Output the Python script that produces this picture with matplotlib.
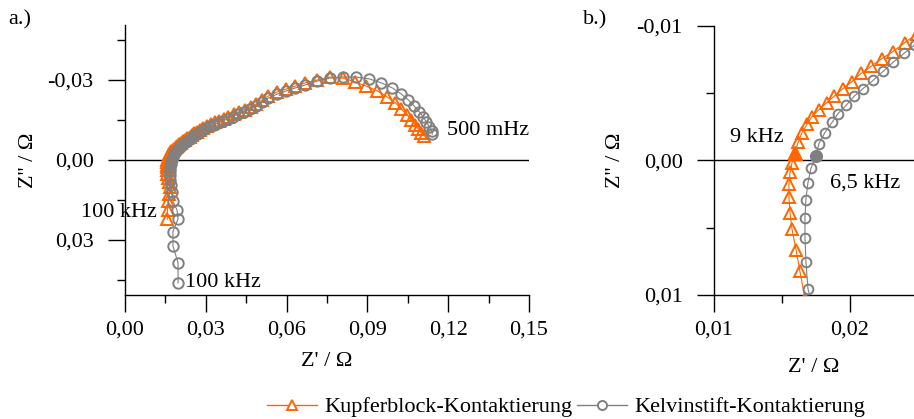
import matplotlib
matplotlib.use("Agg")
import matplotlib.pyplot as plt
from matplotlib.lines import Line2D
from matplotlib.ticker import FixedLocator, FuncFormatter

# Kupferblock-Kontaktierung, from 100 kHz down to 500 mHz
kupfer_re = [0.0157, 0.0158, 0.0161, 0.0165, 0.0167,
             0.01632, 0.01603, 0.01574, 0.01559, 0.01551, 0.01551, 0.01559, 0.01574,
             0.01596, 0.01618, 0.01647, 0.01684, 0.01721, 0.01772, 0.01831, 0.01882,
             0.01949, 0.02015, 0.02081, 0.02154, 0.02235, 0.02316, 0.02404, 0.0249,
             0.0258, 0.0268, 0.0279, 0.0291, 0.0304, 0.0318, 0.0333, 0.0349, 0.0366,
             0.0384, 0.0403, 0.0423, 0.0444, 0.0466, 0.0488,
             0.0509, 0.0532, 0.0565, 0.0599, 0.0632, 0.0669, 0.0714, 0.0762, 0.0810,
             0.0855, 0.0896, 0.0937, 0.0974, 0.1004, 0.1026, 0.1048, 0.1063, 0.1078,
             0.1089, 0.1100, 0.1112]
kupfer_im = [0.0222, 0.0186, 0.0153, 0.0126, 0.0103,
             0.00825, 0.00662, 0.00513, 0.00387, 0.00275, 0.00178, 0.00089, 0.00015,
             -0.00059, -0.00134, -0.00208, -0.00268, -0.00327, -0.00379, -0.00431, -0.00476,
             -0.00535, -0.00587, -0.00647, -0.00699, -0.00758, -0.00810, -0.00877, -0.0094,
             -0.0100, -0.0106, -0.0113, -0.0120, -0.0127, -0.0134, -0.0141, -0.0148, -0.0155,
             -0.0163, -0.0171, -0.0180, -0.0189, -0.0199, -0.0211,
             -0.0225, -0.0240, -0.0255, -0.0266, -0.0277, -0.0289, -0.0300, -0.0311, -0.0307,
             -0.0292, -0.0277, -0.0259, -0.0236, -0.0214, -0.0191, -0.0169, -0.0150, -0.0131,
             -0.0116, -0.0101, -0.0090]
kupfer_mark = 13  # 9 kHz

# Kelvinstift-Kontaktierung, from 100 kHz down to 500 mHz
kelvin_re = [0.0197, 0.0197, 0.0178, 0.0178, 0.0197, 0.0193, 0.0178, 0.0175,
             0.01691, 0.01676, 0.01669, 0.01669, 0.01676, 0.01691, 0.01713,
             0.01750, 0.01772, 0.01816, 0.01868, 0.01912, 0.01971, 0.02029, 0.02096,
             0.02169, 0.02243, 0.02316, 0.02397, 0.02475,
             0.0256, 0.0266, 0.0277, 0.0289, 0.0302, 0.0316, 0.0331, 0.0347, 0.0364,
             0.0382, 0.0401, 0.0421, 0.0442, 0.0464, 0.0487,
             0.0509, 0.0532, 0.0565, 0.0599, 0.0632, 0.0669, 0.0714, 0.0762, 0.0810,
             0.0859, 0.0907, 0.0952, 0.0993, 0.1026, 0.1052, 0.1074, 0.1093, 0.1108,
             0.1119, 0.1130, 0.1138, 0.1141]
kelvin_im = [0.0461, 0.0386, 0.0322, 0.0268, 0.0221, 0.0187, 0.0155, 0.0120,
             0.00952, 0.00751, 0.00573, 0.00424, 0.00290, 0.00164, 0.00059,
             -0.00037, -0.00126, -0.00208, -0.00283, -0.00349, -0.00409, -0.00476, -0.00535,
             -0.00595, -0.00662, -0.00729, -0.00796, -0.00860,
             -0.0092, -0.0098, -0.0105, -0.0112, -0.0119, -0.0126, -0.0133, -0.0140, -0.0147,
             -0.0155, -0.0163, -0.0172, -0.0181, -0.0192, -0.0204,
             -0.0217, -0.0232, -0.0247, -0.0259, -0.0270, -0.0281, -0.0296, -0.0307, -0.0311,
             -0.0311, -0.0304, -0.0289, -0.0270, -0.0247, -0.0225, -0.0202, -0.0180, -0.0161,
             -0.0142, -0.0124, -0.0109, -0.0097]
kelvin_mark = 15  # 6,5 kHz

ORANGE = '#FF6600'
GREY = '#808080'
FS = 16

plt.rcParams['font.family'] = ['Liberation Serif', 'DejaVu Serif']
plt.rcParams['font.size'] = FS


# German decimal comma tick labels
def comma_fmt(v, pos):
    if abs(v) < 1e-9:
        v = 0.0
    return f"{v:.2f}".replace('.', ',')


# Common axis styling for both panels
def style_axis(ax):
    for side in ['top', 'right']:
        ax.spines[side].set_visible(False)
    for side in ['left', 'bottom']:
        ax.spines[side].set_linewidth(1.0)
    ax.tick_params(which='major', direction='out', length=12.5, width=1.0, labelsize=FS)
    ax.tick_params(which='minor', direction='out', length=6, width=1.0)
    ax.tick_params(axis='y', which='major', pad=10)
    ax.tick_params(axis='x', which='major', pad=6)
    ax.xaxis.set_major_formatter(FuncFormatter(comma_fmt))
    ax.yaxis.set_major_formatter(FuncFormatter(comma_fmt))
    ax.axhline(0, color='black', lw=1.0, zorder=1)


def plot_series(ax, ms_tri, ms_circ):
    ax.plot(kupfer_re, kupfer_im, color=ORANGE, lw=0.8, marker='^', ms=ms_tri,
            mfc='none', mec=ORANGE, mew=1.4, zorder=3)
    ax.plot(kelvin_re, kelvin_im, color=GREY, lw=0.8, marker='o', ms=ms_circ,
            mfc='none', mec=GREY, mew=1.4, zorder=4)


fig = plt.figure(figsize=(9.14, 4.19), dpi=100)

# Panel a: full spectrum
ax1 = fig.add_axes([125 / 914, 124 / 419, 404 / 914, 270 / 419])
plot_series(ax1, 8, 7.5)
ax1.set_xlim(0, 0.15)
ax1.set_ylim(0.0506, -0.0506)
ax1.xaxis.set_major_locator(FixedLocator([0, 0.03, 0.06, 0.09, 0.12, 0.15]))
ax1.xaxis.set_minor_locator(FixedLocator([0.015, 0.045, 0.075, 0.105, 0.135]))
ax1.yaxis.set_major_locator(FixedLocator([-0.03, 0, 0.03]))
ax1.yaxis.set_minor_locator(FixedLocator([-0.045, -0.015, 0.015, 0.045]))
style_axis(ax1)
ax1.set_xlabel("Z' / Ω", fontsize=FS)
ax1.set_ylabel("Z'' / Ω", fontsize=FS)
ax1.xaxis.set_label_coords(0.5, -0.21)
ax1.yaxis.set_label_coords(-0.215, 0.5)
ax1.text(0.0119, 0.0195, '100 kHz', ha='right', va='center', fontsize=FS)
ax1.text(0.0223, 0.0461, '100 kHz', ha='left', va='center', fontsize=FS)
ax1.text(0.1197, -0.0112, '500 mHz', ha='left', va='center', fontsize=FS)

# Panel b: zoom on the high frequency intercept
ax2 = fig.add_axes([714 / 914, 124 / 419, 200 / 914, 269 / 419])
plot_series(ax2, 8.5, 7)
ax2.plot(kupfer_re[kupfer_mark], kupfer_im[kupfer_mark], marker='^', ms=9.5,
         color=ORANGE, zorder=5)
ax2.plot(kelvin_re[kelvin_mark], kelvin_im[kelvin_mark], marker='o', ms=8.5,
         color=GREY, zorder=5)
ax2.set_xlim(0.01, 0.02471)
ax2.set_ylim(0.01, -0.01)
ax2.xaxis.set_major_locator(FixedLocator([0.01, 0.02]))
ax2.xaxis.set_minor_locator(FixedLocator([0.015]))
ax2.yaxis.set_major_locator(FixedLocator([-0.01, 0, 0.01]))
ax2.yaxis.set_minor_locator(FixedLocator([-0.005, 0.005]))
style_axis(ax2)
ax2.set_xlabel("Z' / Ω", fontsize=FS)
ax2.set_ylabel("Z'' / Ω", fontsize=FS)
ax2.xaxis.set_label_coords(0.5, -0.235)
ax2.yaxis.set_label_coords(-0.445, 0.5)
ax2.text(0.01515, -0.00171, '9 kHz', ha='right', va='center', fontsize=FS)
ax2.text(0.01853, 0.00164, '6,5 kHz', ha='left', va='center', fontsize=FS)

# Panel letters
fig.text(8 / 914, 1 - 20 / 419, 'a.)', ha='left', va='center', fontsize=FS)
fig.text(583 / 914, 1 - 20 / 419, 'b.)', ha='left', va='center', fontsize=FS)

# Legend below the panels
handles = [Line2D([0], [0], color=ORANGE, lw=1.0, marker='^', ms=7.5, mfc='white', mec=ORANGE, mew=1.4),
           Line2D([0], [0], color=GREY, lw=1.0, marker='o', ms=6.5, mfc='white', mec=GREY, mew=1.4)]
fig.legend(handles, ['Kupferblock-Kontaktierung', 'Kelvinstift-Kontaktierung'],
           loc='center', bbox_to_anchor=(566 / 914, 1 - 407 / 419), ncol=2, frameon=False,
           fontsize=FS, handlelength=2.25, handletextpad=0.35, columnspacing=0.2,
           borderpad=0.1)

fig.savefig('out.png', dpi=100)
